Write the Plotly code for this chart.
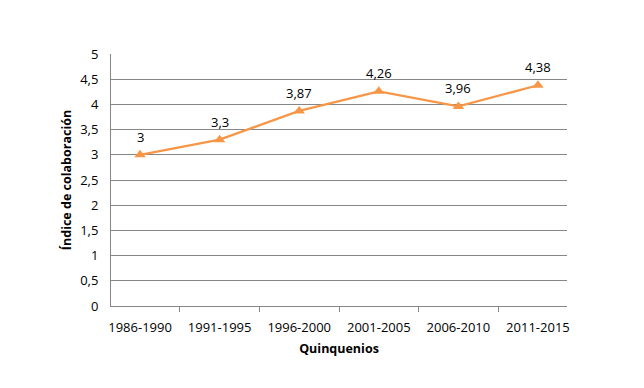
import plotly.graph_objects as go

categories = ["1986-1990", "1991-1995", "1996-2000", "2001-2005", "2006-2010", "2011-2015"]
values = [3, 3.3, 3.87, 4.26, 3.96, 4.38]
labels = [str(v).replace(".", ",") for v in values]

FONT = "Open Sans, Liberation Sans, sans-serif"

fig = go.Figure()
fig.add_trace(go.Scatter(
    x=categories, y=values, mode="lines+markers",
    line=dict(color="#F79646", width=2.25),
    marker=dict(symbol="triangle-up", size=10, color="#F79646"),
    cliponaxis=False, showlegend=False,
))
for c, v, t in zip(categories, values, labels):
    fig.add_annotation(x=c, y=v, text=t, showarrow=False, yshift=18,
                       font=dict(family=FONT, size=13, color="#000000"))

fig.update_layout(
    width=644, height=388,
    margin=dict(l=103, r=85, t=46, b=90),
    paper_bgcolor="white", plot_bgcolor="white",
    separators=", ",
    font=dict(family=FONT, size=13, color="#000000"),
    xaxis=dict(
        type="category", showgrid=False, showline=True, linecolor="#868686", linewidth=1,
        ticks="outside", tickson="boundaries", ticklen=5, tickcolor="#868686",
        tickfont=dict(size=13), ticklabelstandoff=9, automargin=False,
        title=dict(text="<b>Quinquenios</b>", font=dict(size=12.5), standoff=9),
    ),
    yaxis=dict(
        range=[0, 5], dtick=0.5, tick0=0, showgrid=True, gridcolor="#868686", gridwidth=1,
        showline=True, linecolor="#868686", linewidth=1, zeroline=False,
        ticks="", tickfont=dict(size=13), tickformat=",.1~f",
        ticklabelstandoff=9, automargin=False,
        title=dict(text="<b>Índice de colaboración</b>", font=dict(size=12.5), standoff=5),
    ),
)

fig.write_html("out.html")
